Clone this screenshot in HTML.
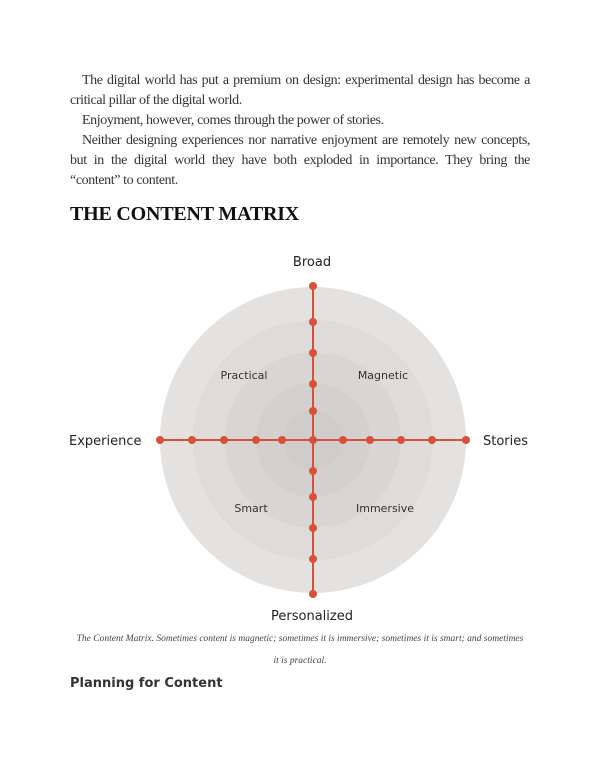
<!DOCTYPE html>
<html><head><style>
body{margin:0;width:600px;height:776px;background:#fff;position:relative;font-family:"Liberation Serif",serif;color:#333}
.p{position:absolute;left:70px;width:460px;font-size:14px;line-height:20px;text-align:justify;letter-spacing:-0.4px}
.p div{text-indent:12px}
h1{position:absolute;left:70px;top:203px;margin:0;font-size:20px;font-weight:bold;color:#111;letter-spacing:-0.2px}
.cap{position:absolute;left:60px;width:480px;top:628px;text-align:center;font-style:italic;font-size:9.5px;line-height:22px;color:#444}
h2{position:absolute;left:70px;top:676px;margin:0;font-family:"DejaVu Sans",sans-serif;font-size:13px;font-weight:bold;color:#333}
</style></head><body>
<div class="p" style="top:71px">
<div>The digital world has put a premium on design: experimental design has become a critical pillar of the digital world.</div>
<div>Enjoyment, however, comes through the power of stories.</div>
<div>Neither designing experiences nor narrative enjoyment are remotely new concepts, but in the digital world they have both exploded in importance. They bring the “content” to content.</div>
</div>
<h1>THE CONTENT MATRIX</h1>
<svg width="600" height="776" style="position:absolute;left:0;top:0" font-family="'DejaVu Sans',sans-serif">
<circle cx="313" cy="440" r="153" fill="#e4e2e1"/>
<circle cx="313" cy="440" r="120" fill="#dedbda"/>
<circle cx="313" cy="440" r="88" fill="#d8d5d4"/>
<circle cx="313" cy="440" r="57" fill="#d3d0cf"/>
<circle cx="313" cy="440" r="30" fill="#cfcccb"/>
<g stroke="#d9503a" stroke-width="2"><line x1="160" y1="440" x2="466" y2="440"/><line x1="313" y1="286" x2="313" y2="594"/></g>
<g fill="#d9503a">
<circle cx="160" cy="440" r="4"/><circle cx="192" cy="440" r="4"/><circle cx="224" cy="440" r="4"/><circle cx="256" cy="440" r="4"/><circle cx="282" cy="440" r="4"/><circle cx="313" cy="440" r="4"/><circle cx="343" cy="440" r="4"/><circle cx="370" cy="440" r="4"/><circle cx="401" cy="440" r="4"/><circle cx="432" cy="440" r="4"/><circle cx="466" cy="440" r="4"/>
<circle cx="313" cy="286" r="4"/><circle cx="313" cy="322" r="4"/><circle cx="313" cy="353" r="4"/><circle cx="313" cy="384" r="4"/><circle cx="313" cy="411" r="4"/><circle cx="313" cy="471" r="4"/><circle cx="313" cy="497" r="4"/><circle cx="313" cy="528" r="4"/><circle cx="313" cy="559" r="4"/><circle cx="313" cy="594" r="4"/>
</g>
<g font-size="11" fill="#333" text-anchor="middle">
<text x="244" y="379">Practical</text><text x="383" y="379">Magnetic</text>
<text x="251" y="512">Smart</text><text x="385" y="512">Immersive</text>
</g>
<g font-size="13" fill="#222">
<text x="312" y="266" text-anchor="middle">Broad</text>
<text x="312" y="620" text-anchor="middle">Personalized</text>
<text x="69" y="445">Experience</text>
<text x="483" y="445">Stories</text>
</g>
</svg>
<div class="cap">The Content Matrix. Sometimes content is magnetic; sometimes it is immersive; sometimes it is smart; and sometimes<br>it is practical.</div>
<h2>Planning for Content</h2>
</body></html>
